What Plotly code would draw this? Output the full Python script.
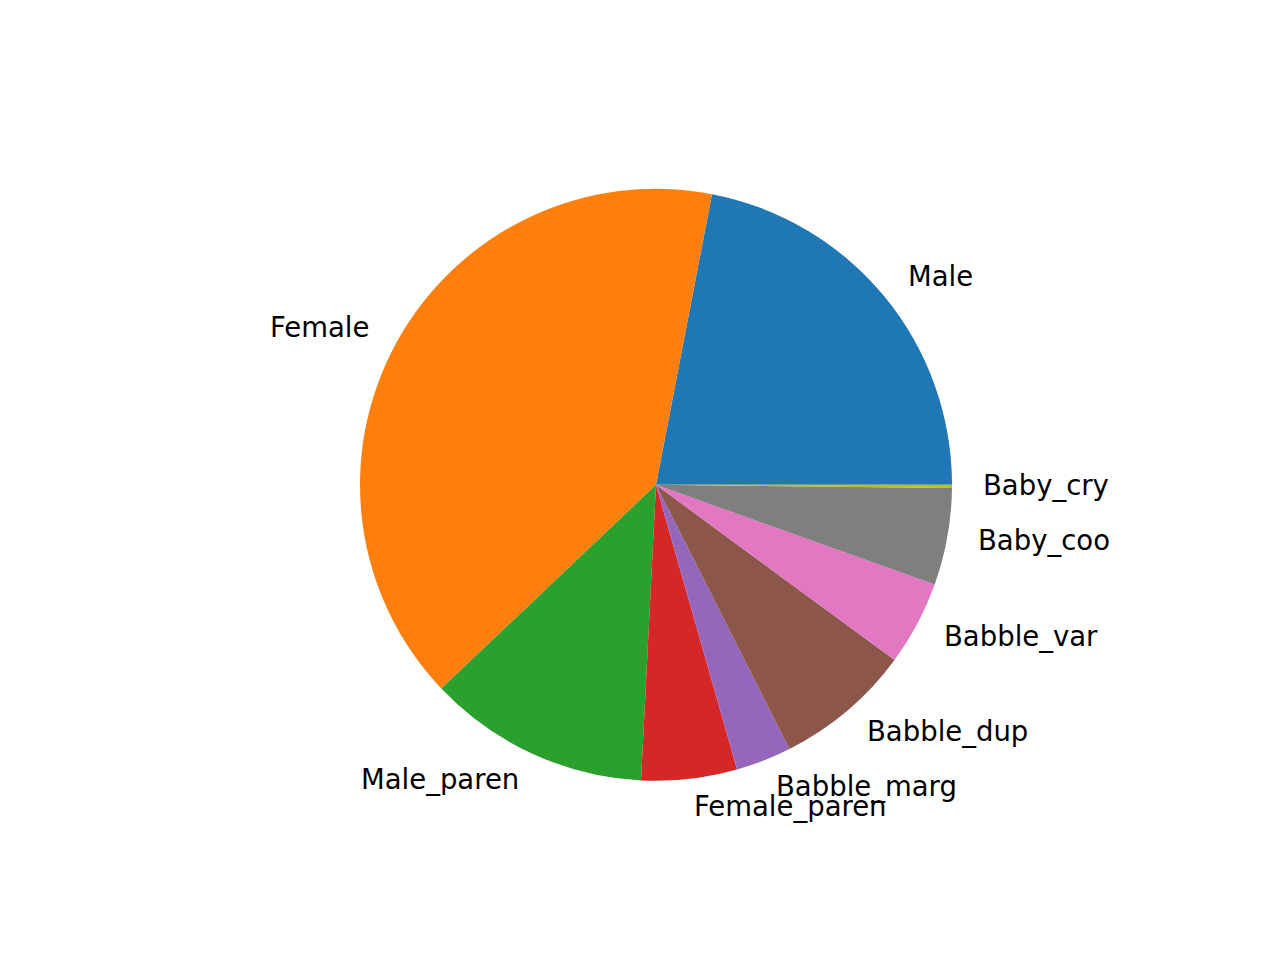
import math
import plotly.graph_objects as go

labels = ["Male", "Female", "Male_paren", "Female_paren", "Babble_marg",
          "Babble_dup", "Babble_var", "Baby_coo", "Baby_cry"]
values = [79.1, 144.4, 43.6, 18.8, 10.9, 26.9, 16.6, 19.1, 0.6]
colors = ["#1f77b4", "#ff7f0e", "#2ca02c", "#d62728", "#9467bd",
          "#8c564b", "#e377c2", "#7f7f7f", "#bcbd22"]

W, H = 1280, 960
PAGE_OFF = 8  # browser body margin
cx, cy = 656.0 - PAGE_OFF, 960 - 484.8 + PAGE_OFF  # centre in px from left / bottom of figure
R = 296.0

total = sum(values)
# matplotlib-style: first wedge starts at 3 o'clock, counterclockwise
rotation = 90 - values[0] / total * 360

fig = go.Figure(go.Pie(
    labels=labels, values=values, sort=False,
    direction="counterclockwise", rotation=rotation,
    marker=dict(colors=colors, line=dict(width=0)),
    textinfo="none", hoverinfo="label+value",
    domain=dict(x=[(cx - R) / W, (cx + R) / W], y=[(cy - R) / H, (cy + R) / H]),
    showlegend=False,
))

cum = 0.0
annotations = []
for lab, v in zip(labels, values):
    mid = (cum + v / 2) / total * 2 * math.pi
    cum += v
    x = cx + 1.1 * R * math.cos(mid)
    y = cy + 1.1 * R * math.sin(mid) + 1.5
    annotations.append(dict(
        x=x / W, y=y / H, xref="paper", yref="paper", text=lab, showarrow=False,
        xanchor="left" if math.cos(mid) > 0 else "right", yanchor="middle",
        xshift=-1 if math.cos(mid) > 0 else 1,
        font=dict(family="DejaVu Sans", size=27.5, color="black"),
    ))

fig.update_layout(
    width=W, height=H, margin=dict(l=0, r=0, t=0, b=0),
    paper_bgcolor="white", plot_bgcolor="white",
    annotations=annotations,
)
fig.write_html("out.html")
